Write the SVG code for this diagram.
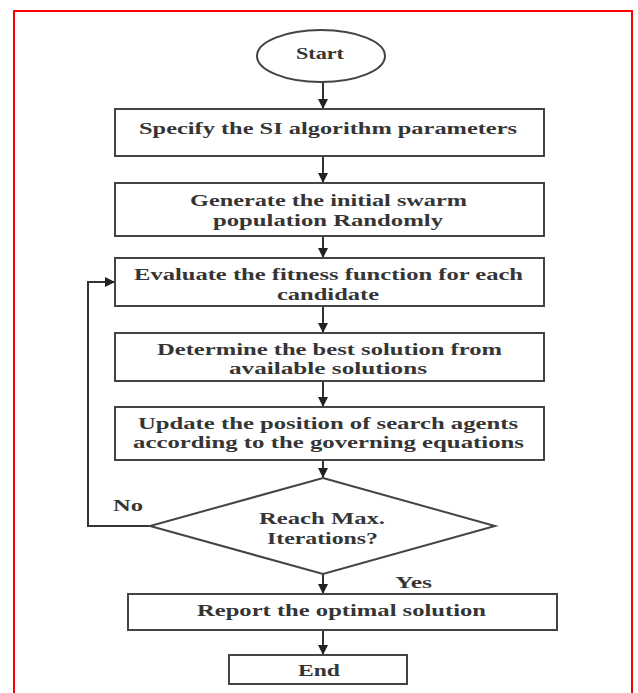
<svg xmlns="http://www.w3.org/2000/svg" width="638" height="693" viewBox="0 0 638 693">
<style>
.box{fill:#fff;stroke:#444;stroke-width:2}
.t{font-family:"Liberation Serif","Times New Roman",serif;font-weight:bold;font-size:17px;fill:#353535}
.c{fill:none;stroke:#333;stroke-width:2}
</style>
<defs>
<marker id="ah" markerWidth="10" markerHeight="10" refX="9" refY="5" orient="auto" markerUnits="userSpaceOnUse">
<path d="M0,0 L10,5 L0,10 Z" fill="#222"/>
</marker>
</defs>
<rect width="638" height="693" fill="#fff"/>
<path d="M14,693 V11 H632 V693" fill="none" stroke="#ff0000" stroke-width="2"/>
<g id="connectors">
<line class="c" x1="323" y1="83" x2="323" y2="108" marker-end="url(#ah)"/>
<line class="c" x1="323" y1="156" x2="323" y2="182" marker-end="url(#ah)"/>
<line class="c" x1="323" y1="236" x2="323" y2="257" marker-end="url(#ah)"/>
<line class="c" x1="323" y1="306" x2="323" y2="332" marker-end="url(#ah)"/>
<line class="c" x1="323" y1="381" x2="323" y2="406" marker-end="url(#ah)"/>
<line class="c" x1="323" y1="460" x2="323" y2="477" marker-end="url(#ah)"/>
<line class="c" x1="323" y1="574" x2="323" y2="593" marker-end="url(#ah)"/>
<line class="c" x1="323" y1="630" x2="323" y2="654" marker-end="url(#ah)"/>
<path class="c" d="M150,526 H88 V282 H114" marker-end="url(#ah)"/>
<text class="t" x="113" y="511" textLength="30" lengthAdjust="spacingAndGlyphs">No</text>
<text class="t" x="395" y="588" textLength="37" lengthAdjust="spacingAndGlyphs">Yes</text>
</g>
<g id="start">
<ellipse cx="321" cy="56" rx="64" ry="26" class="box"/>
<text class="t" x="296" y="59" textLength="48" lengthAdjust="spacingAndGlyphs">Start</text>
</g>
<g id="specify">
<rect class="box" x="115" y="109" width="429" height="47"/>
<text class="t" x="139" y="134" textLength="378" lengthAdjust="spacingAndGlyphs">Specify the SI algorithm parameters</text>
</g>
<g id="generate">
<rect class="box" x="115" y="183" width="429" height="53"/>
<text class="t" x="190" y="206" textLength="277" lengthAdjust="spacingAndGlyphs">Generate the initial swarm</text>
<text class="t" x="213" y="226" textLength="230" lengthAdjust="spacingAndGlyphs">population Randomly</text>
</g>
<g id="evaluate">
<rect class="box" x="115" y="258" width="429" height="48"/>
<text class="t" x="134" y="280" textLength="389" lengthAdjust="spacingAndGlyphs">Evaluate the fitness function for each</text>
<text class="t" x="277" y="300" textLength="102" lengthAdjust="spacingAndGlyphs">candidate</text>
</g>
<g id="determine">
<rect class="box" x="115" y="333" width="429" height="48"/>
<text class="t" x="157" y="355" textLength="345" lengthAdjust="spacingAndGlyphs">Determine the best solution from</text>
<text class="t" x="229" y="374" textLength="198" lengthAdjust="spacingAndGlyphs">available solutions</text>
</g>
<g id="update">
<rect class="box" x="115" y="407" width="429" height="53"/>
<text class="t" x="138" y="429" textLength="380" lengthAdjust="spacingAndGlyphs">Update the position of search agents</text>
<text class="t" x="133" y="448" textLength="391" lengthAdjust="spacingAndGlyphs">according to the governing equations</text>
</g>
<g id="decision">
<polygon class="box" points="323,478 495,526 323,574 150,526"/>
<text class="t" x="259" y="524" textLength="126" lengthAdjust="spacingAndGlyphs">Reach Max.</text>
<text class="t" x="267" y="544" textLength="111" lengthAdjust="spacingAndGlyphs">Iterations?</text>
</g>
<g id="report">
<rect class="box" x="128" y="594" width="429" height="36"/>
<text class="t" x="197" y="616" textLength="289" lengthAdjust="spacingAndGlyphs">Report the optimal solution</text>
</g>
<g id="end">
<rect class="box" x="229" y="655" width="178" height="29"/>
<text class="t" x="298" y="676" textLength="42" lengthAdjust="spacingAndGlyphs">End</text>
</g>
</svg>
